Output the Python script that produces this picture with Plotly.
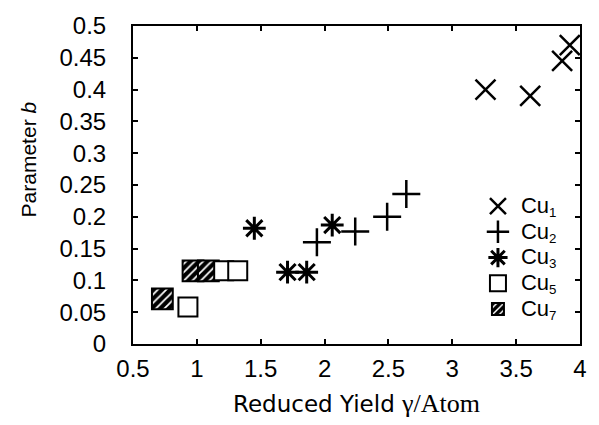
import plotly.graph_objects as go

# Data
cu1_x = [3.26, 3.61, 3.86, 3.92]
cu1_y = [0.40, 0.39, 0.445, 0.47]
cu2_x = [1.94, 2.24, 2.49, 2.64]
cu2_y = [0.16, 0.177, 0.20, 0.236]
cu3_x = [1.45, 1.71, 1.86, 2.06]
cu3_y = [0.182, 0.113, 0.113, 0.187]
cu5_x = [0.93, 1.21, 1.32]
cu5_y = [0.058, 0.115, 0.115]
cu7_x = [0.73, 0.97, 1.09]
cu7_y = [0.071, 0.115, 0.115]

series_names = ["1", "2", "3", "5", "7"]

x_ticks = [0.5, 1, 1.5, 2, 2.5, 3, 3.5, 4]
x_ticktext = ["0.5", "1", "1.5", "2", "2.5", "3", "3.5", "4"]
y_ticks = [0, 0.05, 0.1, 0.15, 0.2, 0.25, 0.3, 0.35, 0.4, 0.45, 0.5]
y_ticktext = ["0", "0.05", "0.1", "0.15", "0.2", "0.25", "0.3", "0.35", "0.4", "0.45", "0.5"]

SQ_W = 0.163   # x-units of a hatched square
SQ_H = 0.0324  # y-units of a hatched square

FONT = "Liberation Sans, Arial, sans-serif"


def label(n):
    return '<span style="font-size:22px">Cu</span><span style="font-size:19px"><sub>%s</sub></span>' % n


fig = go.Figure()

fig.add_trace(go.Scatter(
    x=cu1_x, y=cu1_y, mode="markers", name=label(series_names[0]),
    marker=dict(symbol="x-thin-open", size=20, color="black",
                line=dict(color="black", width=2.5)),
))
fig.add_trace(go.Scatter(
    x=cu2_x, y=cu2_y, mode="markers", name=label(series_names[1]),
    marker=dict(symbol="cross-thin-open", size=20, color="black",
                line=dict(color="black", width=2.5)),
))
fig.add_trace(go.Scatter(
    x=cu3_x, y=cu3_y, mode="markers", name=label(series_names[2]),
    marker=dict(symbol="asterisk-open", size=19, color="black",
                line=dict(color="black", width=3)),
))
fig.add_trace(go.Scatter(
    x=cu5_x, y=cu5_y, mode="markers", name=label(series_names[3]),
    marker=dict(symbol="square", size=19, color="white",
                line=dict(color="black", width=2)),
))
fig.add_trace(go.Bar(
    x=cu7_x, y=[SQ_H] * len(cu7_y), base=[v - SQ_H / 2 for v in cu7_y],
    width=SQ_W, name=label(series_names[4]),
    marker=dict(color="black", line=dict(color="black", width=2),
                pattern=dict(shape="/", fgcolor="white", bgcolor="black",
                             size=6, solidity=0.3, fillmode="replace")),
))

axis_common = dict(
    showline=True, linecolor="black", linewidth=2, mirror="ticks",
    ticks="inside", ticklen=5, tickwidth=1.5, tickcolor="black",
    showgrid=False, zeroline=False,
    tickfont=dict(family=FONT, size=24, color="black"),
)

fig.update_layout(
    width=599, height=425,
    margin=dict(l=133, r=16, t=17, b=80),
    paper_bgcolor="white", plot_bgcolor="white",
    barmode="overlay",
    font=dict(family=FONT, color="black"),
    xaxis=dict(range=[0.5, 4], tickvals=x_ticks, ticktext=x_ticktext,
               ticklabelstandoff=2,
               title=dict(text="Reduced Yield <span style=\"font-family:'Liberation Serif';font-size:26px\">γ/Atom</span>",
                          font=dict(family="DejaVu Sans, sans-serif", size=23, color="black"),
                          standoff=15),
               **axis_common),
    yaxis=dict(range=[0, 0.5], tickvals=y_ticks, ticktext=y_ticktext,
               ticklabelstandoff=20,
               **axis_common),
    annotations=[dict(text="Parameter <i>b</i>", textangle=-90,
                      xref="paper", yref="paper", x=-0.233, y=0.58,
                      xanchor="center", yanchor="middle", showarrow=False,
                      font=dict(family=FONT, size=21, color="black"))],
    showlegend=True,
    legend=dict(x=0.765, y=0.49, xanchor="left", yanchor="top",
                bgcolor="rgba(0,0,0,0)", borderwidth=0,
                font=dict(family=FONT, size=17.5, color="black"),
                itemwidth=36, tracegroupgap=0),
)

fig.write_html("out.html")
